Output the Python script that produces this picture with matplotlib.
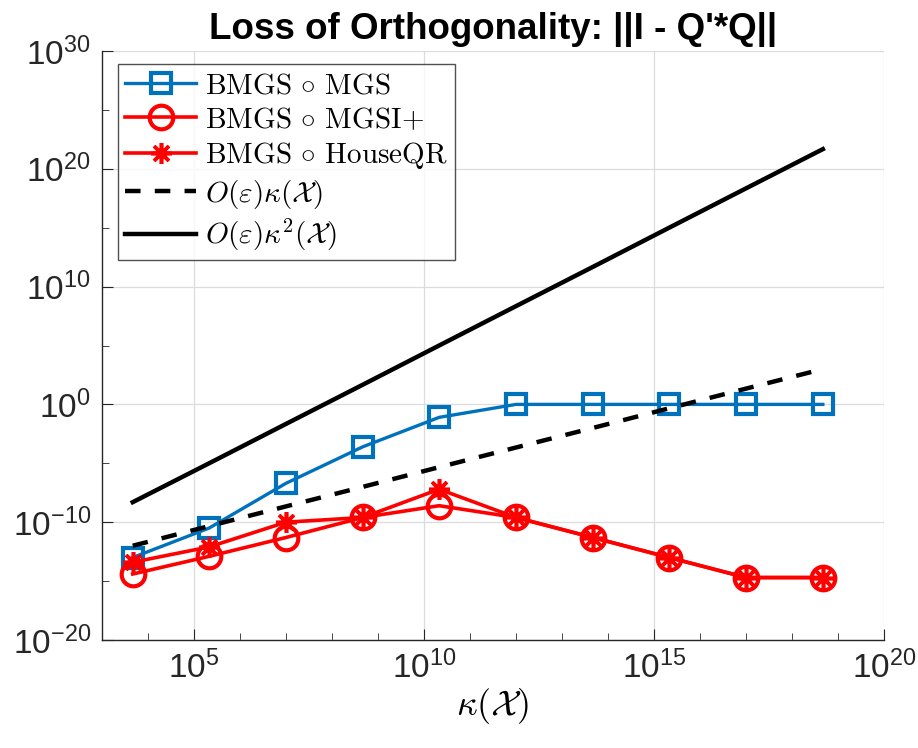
import numpy as np
import matplotlib.pyplot as plt
from matplotlib.ticker import NullFormatter

plt.rcParams['font.family'] = ['Liberation Sans', 'DejaVu Sans']
plt.rcParams['mathtext.fontset'] = 'cm'

# log10 of kappa(X) for each test matrix
log_kappa = [3.67, 5.33, 7.0, 8.67, 10.33, 12.0, 13.67, 15.33, 17.0, 18.67]

# log10 of ||I - Q'Q||
log_mgs = [-13.0, -10.5, -6.7, -3.6, -1.1, 0.0, 0.0, 0.0, 0.0, 0.0]
log_mgsi = [-14.4, -12.9, -11.3, -9.6, -8.6, -9.6, -11.3, -13.0, -14.7, -14.7]
log_house = [-13.4, -12.1, -10.0, -9.6, -7.2, -9.6, -11.3, -13.0, -14.7, -14.7]
log_eps_k = [-12.0, -10.33, -8.66, -7.0, -5.33, -3.66, -2.0, -0.33, 1.34, 3.0]
log_eps_k2 = [-8.3, -5.0, -1.66, 1.67, 5.0, 8.34, 11.67, 15.0, 18.34, 21.67]

kappa = 10.0 ** np.array(log_kappa)
blue = '#0072BD'

fig = plt.figure(figsize=(9.18, 7.48), dpi=100)
ax = fig.add_axes([0.111, 0.1444, 0.852, 0.7874])

ax.loglog(kappa, 10.0 ** np.array(log_mgs), '-s', color=blue, lw=2.4,
          ms=15, mew=3, mfc='none', label=r'$\mathrm{BMGS}\,\circ\,\mathrm{MGS}$')
ax.loglog(kappa, 10.0 ** np.array(log_mgsi), '-o', color='red', lw=2.6,
          ms=17, mew=3, mfc='none', label=r'$\mathrm{BMGS}\,\circ\,\mathrm{MGSI\!+}$')
ax.loglog(kappa, 10.0 ** np.array(log_house), '-', marker=(8, 2, 0), color='red',
          lw=2.6, ms=15, mew=2.6, label=r'$\mathrm{BMGS}\,\circ\,\mathrm{HouseQR}$')
ax.loglog(kappa, 10.0 ** np.array(log_eps_k), '--', color='black', lw=3.2,
          dashes=(3.5, 3.2), label=r'$O(\varepsilon)\kappa(\mathcal{X})$')
ax.loglog(kappa, 10.0 ** np.array(log_eps_k2), '-', color='black', lw=3.2,
          label=r'$O(\varepsilon)\kappa^2(\mathcal{X})$')

ax.set_xlim(1e3, 1e20)
ax.set_ylim(1e-20, 1e30)
ax.set_xticks([1e5, 1e10, 1e15, 1e20])
ax.set_xticks([10.0 ** k for k in range(3, 21)], minor=True)
ax.set_yticks([10.0 ** k for k in range(-20, 31, 10)])
ax.set_yticks([10.0 ** k for k in range(-15, 30, 10)], minor=True)
ax.xaxis.set_minor_formatter(NullFormatter())
ax.yaxis.set_minor_formatter(NullFormatter())

ax.grid(True, which='major', color='#dcdcdc', lw=0.9)
ax.set_axisbelow(True)
for s in ['top', 'right']:
    ax.spines[s].set_visible(False)
for s in ['left', 'bottom']:
    ax.spines[s].set_color('#262626')
    ax.spines[s].set_linewidth(1.0)
ax.tick_params(which='both', direction='in', colors='#262626', labelsize=24,
               top=False, right=False)
ax.tick_params(which='major', length=8, pad=8)
ax.tick_params(which='minor', length=5)

ax.set_xlabel(r'$\kappa(\mathcal{X})$', fontsize=26, labelpad=0)
ax.set_title("Loss of Orthogonality: ||I - Q'*Q||", fontsize=26.5, fontweight='bold',
             pad=9)

leg = ax.legend(loc='upper left', fontsize=21, frameon=True, fancybox=False,
                edgecolor='#262626', handlelength=2.45, handletextpad=0.3,
                labelspacing=0.22, borderpad=0.25, borderaxespad=0,
                bbox_to_anchor=(0.02, 0.978))
leg.get_frame().set_linewidth(1.0)

fig.savefig('out.png', dpi=100)
